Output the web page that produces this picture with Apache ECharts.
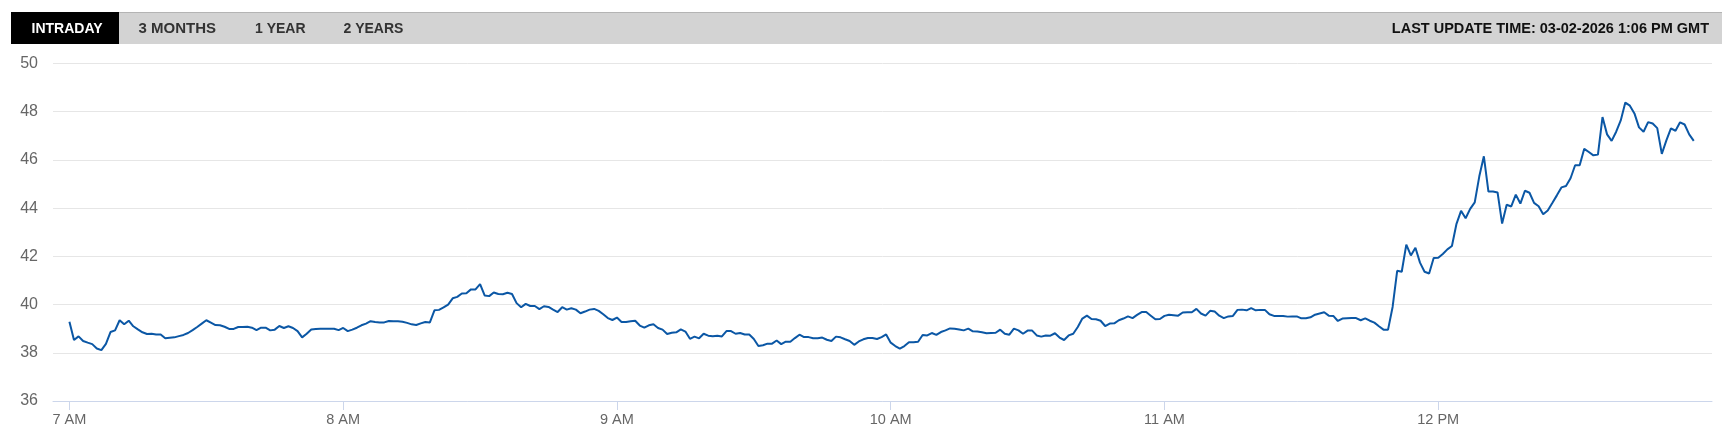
<!DOCTYPE html>
<html>
<head>
<meta charset="utf-8">
<script src="https://cdn.jsdelivr.net/npm/echarts@6/dist/echarts.min.js"></script>
<style>
  html, body { margin: 0; padding: 0; background: #fff; }
  #chart { width: 1730px; height: 431px; }
</style>
</head>
<body>
<div id="chart"></div>
<script>
// ---- Data (one sample per minute, starting 7:00 AM) ----
const tabLabels = ['INTRADAY', '3 MONTHS', '1 YEAR', '2 YEARS'];
const updateText = 'LAST UPDATE TIME: 03-02-2026 1:06 PM GMT';

const xTickValues = [0, 60, 120, 180, 240, 300];           // minutes after 7:00 AM
const xTickLabels = ['7 AM', '8 AM', '9 AM', '10 AM', '11 AM', '12 PM'];
const yTicks = [36, 38, 40, 42, 44, 46, 48, 50];

const values7am = [
  39.29, 38.53, 38.68, 38.49, 38.42, 38.36, 38.18, 38.11, 38.37, 38.86,
  38.93, 39.35, 39.18, 39.33, 39.10, 38.97, 38.85, 38.78, 38.79, 38.76,
  38.76, 38.60, 38.62, 38.64, 38.69, 38.74, 38.82, 38.94, 39.07, 39.21,
  39.35, 39.25, 39.15, 39.14, 39.08, 38.99, 38.99, 39.07, 39.07, 39.08,
  39.04, 38.94, 39.04, 39.04, 38.93, 38.96, 39.11, 39.03, 39.10, 39.03,
  38.90, 38.64, 38.79, 38.97, 38.99, 39.00, 39.00, 39.00, 39.00, 38.94
];
const values8am = [
  39.03, 38.90, 38.96, 39.04, 39.14, 39.21, 39.31, 39.28, 39.26, 39.26,
  39.32, 39.31, 39.31, 39.29, 39.24, 39.18, 39.15, 39.22, 39.28, 39.26,
  39.76, 39.78, 39.88, 40.00, 40.26, 40.32, 40.46, 40.47, 40.63, 40.63,
  40.85, 40.38, 40.35, 40.50, 40.44, 40.43, 40.49, 40.44, 40.06, 39.89,
  40.03, 39.94, 39.94, 39.81, 39.93, 39.90, 39.79, 39.69, 39.89, 39.79,
  39.85, 39.79, 39.64, 39.71, 39.79, 39.82, 39.74, 39.60, 39.44, 39.36
];
const values9am = [
  39.46, 39.28, 39.28, 39.31, 39.33, 39.13, 39.04, 39.14, 39.18, 39.03,
  38.96, 38.78, 38.83, 38.85, 38.97, 38.88, 38.58, 38.67, 38.60, 38.79,
  38.71, 38.69, 38.71, 38.68, 38.90, 38.90, 38.79, 38.82, 38.76, 38.76,
  38.57, 38.28, 38.31, 38.38, 38.38, 38.51, 38.36, 38.46, 38.46, 38.61,
  38.75, 38.65, 38.65, 38.60, 38.60, 38.63, 38.54, 38.49, 38.67, 38.64,
  38.56, 38.49, 38.33, 38.47, 38.56, 38.61, 38.61, 38.57, 38.65, 38.76
];
const values10am = [
  38.42, 38.28, 38.17, 38.28, 38.44, 38.44, 38.46, 38.74, 38.72, 38.82,
  38.74, 38.86, 38.93, 39.01, 39.00, 38.97, 38.93, 39.00, 38.89, 38.88,
  38.85, 38.81, 38.82, 38.83, 38.96, 38.79, 38.75, 39.00, 38.93, 38.79,
  38.92, 38.92, 38.72, 38.67, 38.72, 38.71, 38.81, 38.63, 38.53, 38.72,
  38.79, 39.07, 39.42, 39.54, 39.40, 39.39, 39.33, 39.11, 39.21, 39.22,
  39.35, 39.42, 39.51, 39.44, 39.57, 39.69, 39.69, 39.54, 39.39, 39.40
];
const values11am = [
  39.53, 39.58, 39.56, 39.54, 39.67, 39.68, 39.68, 39.82, 39.63, 39.54,
  39.74, 39.71, 39.54, 39.44, 39.51, 39.53, 39.78, 39.79, 39.76, 39.85,
  39.76, 39.78, 39.78, 39.60, 39.53, 39.53, 39.53, 39.50, 39.51, 39.51,
  39.43, 39.43, 39.47, 39.58, 39.63, 39.68, 39.54, 39.53, 39.32, 39.42,
  39.43, 39.44, 39.44, 39.35, 39.43, 39.33, 39.25, 39.10, 38.96, 38.96,
  39.90, 41.40, 41.36, 42.49, 42.04, 42.36, 41.74, 41.36, 41.29, 41.93
];
const values12pm = [
  41.94, 42.10, 42.29, 42.43, 43.35, 43.89, 43.58, 43.97, 44.24, 45.32,
  46.15, 44.69, 44.69, 44.65, 43.36, 44.14, 44.07, 44.56, 44.19, 44.72,
  44.64, 44.22, 44.08, 43.75, 43.90, 44.21, 44.53, 44.86, 44.92, 45.24,
  45.78, 45.78, 46.46, 46.33, 46.19, 46.22, 47.78, 47.06, 46.79, 47.17,
  47.64, 48.38, 48.25, 47.93, 47.35, 47.17, 47.57, 47.51, 47.32, 46.25,
  46.81, 47.31, 47.21, 47.56, 47.47, 47.06, 46.79
];

// ---- Build series (x = minutes after 7:00 AM) ----
const allValues = [].concat(values7am, values8am, values9am, values10am, values11am, values12pm);
const seriesData = allValues.map((v, i) => [i, v]);

const FONT = '"Liberation Sans", Arial, Helvetica, sans-serif';
const tabX = [31.5, 138.5, 255, 343.5];
const tabSize = [14, 15, 14, 14];

const graphics = [
  { type: 'rect', shape: { x: 11, y: 12, width: 1711, height: 32 }, style: { fill: '#d3d3d3' }, silent: true },
  { type: 'rect', shape: { x: 11, y: 12, width: 1711, height: 1 }, style: { fill: '#b4b4b4' }, silent: true },
  { type: 'rect', shape: { x: 11, y: 12, width: 108, height: 32 }, style: { fill: '#000000' }, silent: true, z: 10 }
];
tabLabels.forEach((t, i) => {
  graphics.push({
    type: 'text', x: tabX[i], y: 29, z: 11, silent: true,
    style: {
      text: t, fill: i === 0 ? '#ffffff' : '#333333',
      font: 'bold ' + tabSize[i] + 'px ' + FONT, textVerticalAlign: 'middle', textAlign: 'left'
    }
  });
});
graphics.push({
  type: 'text', x: 1709, y: 29, z: 11, silent: true,
  style: {
    text: updateText, fill: '#111111',
    font: 'bold 14.5px ' + FONT, textVerticalAlign: 'middle', textAlign: 'right'
  }
});

const chart = echarts.init(document.getElementById('chart'), null, { renderer: 'canvas' });
chart.setOption({
  animation: false,
  backgroundColor: '#ffffff',
  graphic: graphics,
  grid: { left: 53, right: 18, top: 63.5, bottom: 30 },
  xAxis: {
    type: 'value',
    min: -3.6,
    max: 360,
    splitLine: { show: false },
    axisLine: { show: true, lineStyle: { color: '#ccd6eb', width: 1 } },
    axisTick: { show: true, length: 9, lineStyle: { color: '#ccd6eb' }, customValues: xTickValues },
    axisLabel: {
      customValues: xTickValues,
      formatter: (v) => xTickLabels[xTickValues.indexOf(v)] || '',
      color: '#666666', fontSize: 14.5, fontFamily: FONT, margin: 11
    }
  },
  yAxis: {
    type: 'value',
    min: yTicks[0],
    max: yTicks[yTicks.length - 1],
    interval: 2,
    axisLine: { show: false },
    axisTick: { show: false },
    splitLine: { show: true, lineStyle: { color: '#e6e6e6', width: 1 } },
    axisLabel: { color: '#666666', fontSize: 16, fontFamily: FONT, margin: 15 }
  },
  series: [{
    type: 'line',
    data: seriesData,
    showSymbol: false,
    symbol: 'none',
    lineStyle: { color: '#0b57a5', width: 2 },
    itemStyle: { color: '#0b57a5' }
  }]
});
</script>
</body>
</html>
